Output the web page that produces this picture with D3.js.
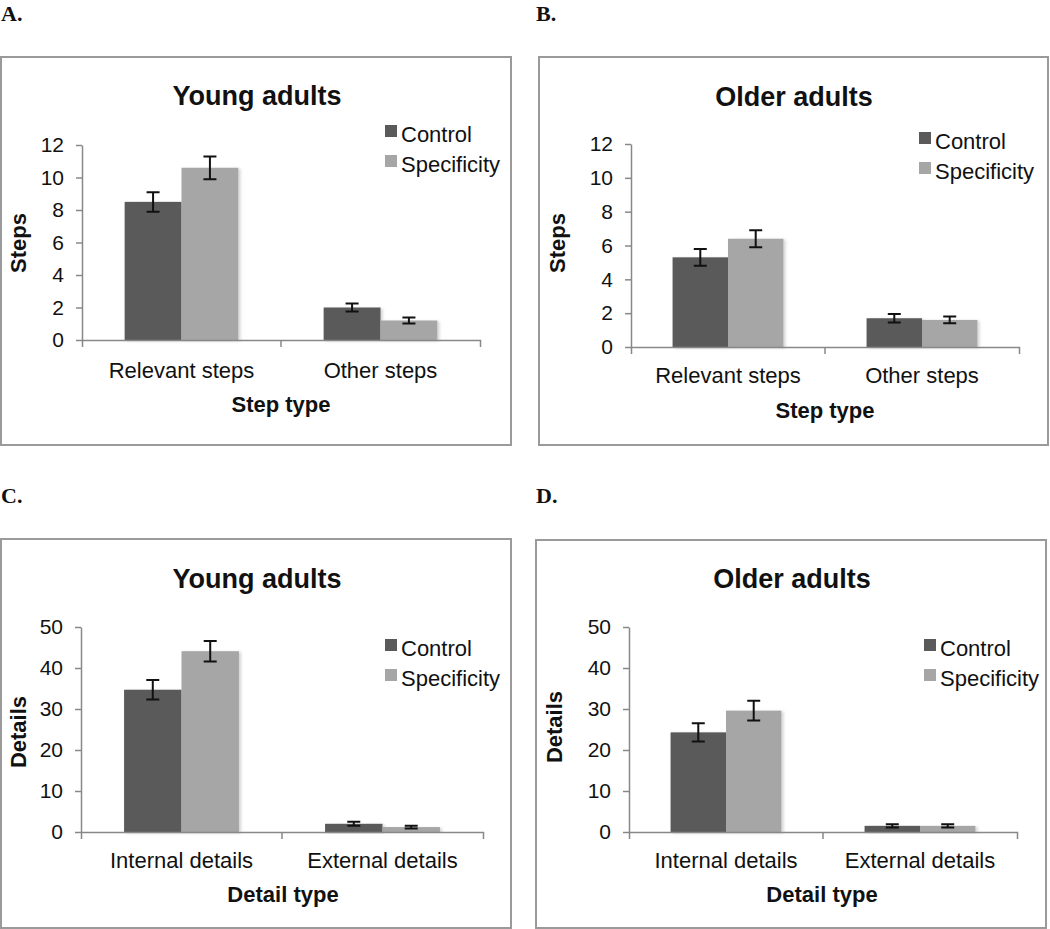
<!DOCTYPE html>
<html>
<head>
<meta charset="utf-8">
<script src="https://cdn.jsdelivr.net/npm/d3@7"></script>
<style>
  body { margin: 0; background: #fff; }
  svg text { font-family: "Liberation Sans", Arial, sans-serif; fill: #111; }
</style>
</head>
<body>
<svg id="chart" width="1050" height="929"></svg>
<script>
// series + categories
var series = ['Control', 'Specificity'],
    stepTypes = ['Relevant steps', 'Other steps'],
    detailTypes = ['Internal details', 'External details'],
    stepTicks = [0, 2, 4, 6, 8, 10, 12],
    detailTicks = [0, 10, 20, 30, 40, 50];

// values (means, error = half bar length)
var youngStepsControl = [8.5, 2.0],
    youngStepsControlErr = [0.6, 0.25],
    youngStepsSpec = [10.6, 1.2],
    youngStepsSpecErr = [0.7, 0.18];

var olderStepsControl = [5.3, 1.7],
    olderStepsControlErr = [0.5, 0.25],
    olderStepsSpec = [6.4, 1.6],
    olderStepsSpecErr = [0.5, 0.2];

var youngDetailsControl = [34.7, 2.0],
    youngDetailsControlErr = [2.4, 0.5],
    youngDetailsSpec = [44.1, 1.2],
    youngDetailsSpecErr = [2.5, 0.35];

var olderDetailsControl = [24.3, 1.5],
    olderDetailsControlErr = [2.2, 0.4],
    olderDetailsSpec = [29.6, 1.5],
    olderDetailsSpecErr = [2.4, 0.4];

var colors = { 'Control': '#5a5a5a', 'Specificity': '#a6a6a6' },
    axisColor = '#888888';

var panels = [
  { tag: 'A.', title: 'Young adults', cats: stepTypes, ticks: stepTicks, yTitle: 'Steps', xTitle: 'Step type',
    vals: [youngStepsControl, youngStepsSpec], errs: [youngStepsControlErr, youngStepsSpecErr],
    box: [1, 57, 510, 388], tagPos: [1, 21], plot: [82, 480, 145, 340], titlePos: [257, 105],
    legend: [385, 125], yTitlePos: [26, 243], catPad: 22, xTitlePos: [281, 412] },
  { tag: 'B.', title: 'Older adults', cats: stepTypes, ticks: stepTicks, yTitle: 'Steps', xTitle: 'Step type',
    vals: [olderStepsControl, olderStepsSpec], errs: [olderStepsControlErr, olderStepsSpecErr],
    box: [539, 57, 509, 388], tagPos: [536, 21], plot: [631, 1019, 144, 347], titlePos: [794, 106],
    legend: [919, 132], yTitlePos: [565, 243], catPad: 20, xTitlePos: [825, 418] },
  { tag: 'C.', title: 'Young adults', cats: detailTypes, ticks: detailTicks, yTitle: 'Details', xTitle: 'Detail type',
    vals: [youngDetailsControl, youngDetailsSpec], errs: [youngDetailsControlErr, youngDetailsSpecErr],
    box: [1, 539, 510, 389], tagPos: [1, 503], plot: [81, 483, 627, 832], titlePos: [257, 588],
    legend: [385, 639], yTitlePos: [26, 732], catPad: 20, xTitlePos: [283, 902] },
  { tag: 'D.', title: 'Older adults', cats: detailTypes, ticks: detailTicks, yTitle: 'Details', xTitle: 'Detail type',
    vals: [olderDetailsControl, olderDetailsSpec], errs: [olderDetailsControlErr, olderDetailsSpecErr],
    box: [536, 540, 510, 388], tagPos: [536, 503], plot: [629, 1017, 627, 832], titlePos: [792, 588],
    legend: [924, 639], yTitlePos: [562, 727], catPad: 20, xTitlePos: [822, 902] }
];

var svg = d3.select('#chart');

// soft shadow behind the bars, like the office chart export
var defs = svg.append('defs');
var shadow = defs.append('filter').attr('id', 'barShadow')
  .attr('x', '-10%').attr('y', '-10%').attr('width', '130%').attr('height', '130%');
shadow.append('feDropShadow')
  .attr('dx', 2).attr('dy', 1).attr('stdDeviation', 1.5)
  .attr('flood-color', '#000').attr('flood-opacity', 0.18);

panels.forEach(function(p) {
  var g = svg.append('g');

  // panel letter
  g.append('text')
    .attr('x', p.tagPos[0]).attr('y', p.tagPos[1])
    .style('font-family', '"Liberation Serif", "Times New Roman", serif')
    .style('font-weight', 'bold').style('font-size', '22px')
    .text(p.tag);

  // frame
  g.append('rect')
    .attr('x', p.box[0]).attr('y', p.box[1])
    .attr('width', p.box[2]).attr('height', p.box[3])
    .attr('fill', 'none').attr('stroke', '#9a9a9a').attr('stroke-width', 2);

  g.append('text')
    .attr('x', p.titlePos[0]).attr('y', p.titlePos[1])
    .attr('text-anchor', 'middle')
    .style('font-weight', 'bold').style('font-size', '27px')
    .text(p.title);

  var x0 = d3.scaleBand().domain(p.cats).range([p.plot[0], p.plot[1]]),
      x1 = d3.scaleBand().domain(series).range([0, x0.bandwidth()]).paddingOuter(0.75),
      y = d3.scaleLinear().domain([0, d3.max(p.ticks)]).range([p.plot[3], p.plot[2]]);

  // y axis
  var yAxis = g.append('g')
    .attr('transform', 'translate(' + p.plot[0] + ',0)')
    .call(d3.axisLeft(y).tickValues(p.ticks).tickSize(6).tickSizeOuter(0).tickPadding(12));
  yAxis.selectAll('text').style('font-size', '21px').attr('fill', '#111');

  // bars
  var rows = [];
  p.cats.forEach(function(c, i) {
    series.forEach(function(s, j) {
      rows.push({ cat: c, series: s, value: p.vals[j][i], err: p.errs[j][i] });
    });
  });

  var groups = g.append('g').selectAll('g.bar')
    .data(rows)
    .enter().append('g').attr('class', 'bar')
    .attr('transform', function(d) { return 'translate(' + (x0(d.cat) + x1(d.series)) + ',0)'; });

  groups.append('rect')
    .attr('x', 0)
    .attr('y', function(d) { return y(d.value); })
    .attr('width', x1.bandwidth())
    .attr('height', function(d) { return y(0) - y(d.value); })
    .attr('fill', function(d) { return colors[d.series]; })
    .attr('filter', 'url(#barShadow)');

  // error bars
  var cx = x1.bandwidth() / 2, capHalf = 6.5;
  groups.append('path')
    .attr('d', function(d) {
      var top = y(d.value + d.err), bot = y(d.value - d.err);
      return 'M' + (cx - capHalf) + ',' + top + 'H' + (cx + capHalf) +
             'M' + cx + ',' + top + 'V' + bot +
             'M' + (cx - capHalf) + ',' + bot + 'H' + (cx + capHalf);
    })
    .attr('fill', 'none').attr('stroke', '#111').attr('stroke-width', 2);

  // x axis, ticks sit on the band edges
  var xAxis = g.append('g')
    .attr('transform', 'translate(0,' + p.plot[3] + ')')
    .call(d3.axisBottom(x0).tickSizeInner(0).tickSizeOuter(7).tickPadding(p.catPad));
  xAxis.selectAll('text').style('font-size', '22px').attr('fill', '#111');
  xAxis.append('line')
    .attr('x1', x0(p.cats[1])).attr('x2', x0(p.cats[1]))
    .attr('y1', 0).attr('y2', 7)
    .attr('stroke', axisColor);

  [yAxis, xAxis].forEach(function(ax) {
    ax.select('.domain').attr('stroke', axisColor).attr('stroke-width', 1.5);
    ax.selectAll('.tick line').attr('stroke', axisColor).attr('stroke-width', 1.5);
  });
  xAxis.selectAll('line').attr('stroke-width', 1.5);

  // axis titles
  g.append('text')
    .attr('transform', 'translate(' + p.yTitlePos[0] + ',' + p.yTitlePos[1] + ') rotate(-90)')
    .attr('text-anchor', 'middle')
    .style('font-weight', 'bold').style('font-size', '22px')
    .text(p.yTitle);

  g.append('text')
    .attr('x', p.xTitlePos[0]).attr('y', p.xTitlePos[1])
    .attr('text-anchor', 'middle')
    .style('font-weight', 'bold').style('font-size', '22px')
    .text(p.xTitle);

  // legend
  var leg = g.append('g').selectAll('g')
    .data(series)
    .enter().append('g')
    .attr('transform', function(d, i) { return 'translate(' + p.legend[0] + ',' + (p.legend[1] + i * 30) + ')'; });
  leg.append('rect')
    .attr('width', 12).attr('height', 12)
    .attr('fill', function(d) { return colors[d]; });
  leg.append('text')
    .attr('x', 16).attr('y', 17)
    .style('font-size', '22px')
    .text(function(d) { return d; });
});
</script>
</body>
</html>
